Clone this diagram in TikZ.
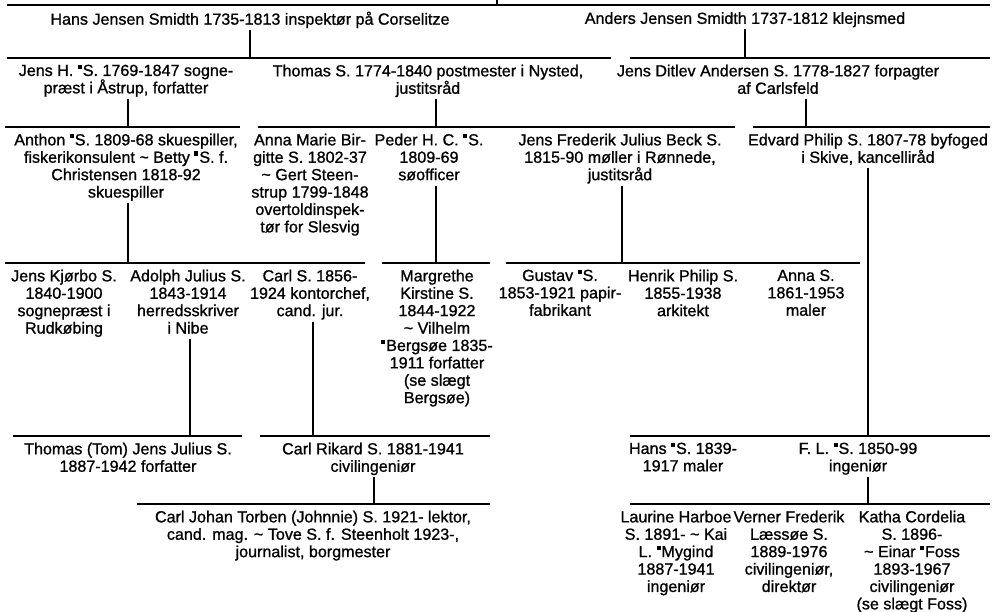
\documentclass[tikz,border=0pt]{standalone}
\usepackage{fontspec}
\setmainfont{Liberation Sans}[FakeBold=1.0]
\newcommand\mk{\rule[0.45em]{0.25em}{0.25em}\kern0.06em}
\newcommand\tld{\textasciitilde}
\begin{document}
\begin{tikzpicture}[x=1pt,y=-1pt,
  person/.style={anchor=north, align=center, inner sep=0pt,
    font=\fontsize{16.1}{17.4}\selectfont,
    execute at begin node=\strut, execute at end node=\strut},
  hl/.style={line width=1.8pt},
  vl/.style={line width=1.1pt}]
\useasboundingbox (0,0) rectangle (999,612);

% ---------- horizontal lines (coordinates) ----------
\coordinate (L1W) at (7,5);     \coordinate (L1E) at (990,5);
\coordinate (L2aW) at (7,58);   \coordinate (L2aE) at (611,58);
\coordinate (L2bW) at (630,58); \coordinate (L2bE) at (990,58);
\coordinate (L3aW) at (5,127);  \coordinate (L3aE) at (240,127);
\coordinate (L3bW) at (258,127);\coordinate (L3bE) at (735,127);
\coordinate (L3cW) at (753,127);\coordinate (L3cE) at (990,127);
\coordinate (L4aW) at (5,263);  \coordinate (L4aE) at (365,263);
\coordinate (L4bW) at (382,263);\coordinate (L4bE) at (490,263);
\coordinate (L4cW) at (506,263);\coordinate (L4cE) at (860,263);
\coordinate (L5aW) at (13,436); \coordinate (L5aE) at (242,436);
\coordinate (L5bW) at (260,436);\coordinate (L5bE) at (490,436);
\coordinate (L5cW) at (630,436);\coordinate (L5cE) at (990,436);
\coordinate (L6aW) at (137,504);\coordinate (L6aE) at (490,504);
\coordinate (L6bW) at (630,504);\coordinate (L6bE) at (990,504);
\coordinate (top) at (497,0);

\foreach \a/\b in {L1W/L1E,L2aW/L2aE,L2bW/L2bE,L3aW/L3aE,L3bW/L3bE,L3cW/L3cE,
  L4aW/L4aE,L4bW/L4bE,L4cW/L4cE,L5aW/L5aE,L5bW/L5bE,L5cW/L5cE,L6aW/L6aE,L6bW/L6bE}
  \draw[hl] (\a) -- (\b);

% ---------- persons ----------
\node[person] (hans)   at (250,11.5) {Hans Jensen Smidth 1735-1813 inspektør på Corselitze};
\node[person] (anders) at (745,11.5) {Anders Jensen Smidth 1737-1812 klejnsmed};

\node[person] (jensh)  at (126,64.5) {Jens H. \mk S. 1769-1847 sogne-\\præst i Åstrup, forfatter};
\node[person] (thomas) at (428,64.5) {Thomas S. 1774-1840 postmester i Nysted,\\justitsråd};
\node[person] (jensd)  at (778,64.5) {Jens Ditlev Andersen S. 1778-1827 forpagter\\af Carlsfeld};

\node[person] (anthon) at (126,133.5) {Anthon \mk S. 1809-68 skuespiller,\\fiskerikonsulent \tld{} Betty \mk S. f.\\Christensen 1818-92\\skuespiller};
\node[person] (annam)  at (310,133.5) {Anna Marie Bir-\\gitte S. 1802-37\\\tld{} Gert Steen-\\strup 1799-1848\\overtoldinspek-\\tør for Slesvig};
\node[person] (peder)  at (429,133.5) {Peder H. C. \mk S.\\1809-69\\søofficer};
\node[person] (jensf)  at (620,133.5) {Jens Frederik Julius Beck S.\\1815-90 møller i Rønnede,\\justitsråd};
\node[person] (edvard) at (868,133.5) {Edvard Philip S. 1807-78 byfoged\\i Skive, kancelliråd};

\node[person] (jensk)  at (64,269.5)  {Jens Kjørbo S.\\1840-1900\\sognepræst i\\Rudkøbing};
\node[person] (adolph) at (188,269.5) {Adolph Julius S.\\1843-1914\\herredsskriver\\i Nibe};
\node[person] (carls)  at (310,269.5) {Carl S. 1856-\\1924 kontorchef,\\cand. jur.};
\node[person] (marg)   at (437,269.5) {Margrethe\\Kirstine S.\\1844-1922\\\tld{} Vilhelm\\\mk Bergsøe 1835-\\1911 forfatter\\(se slægt\\Bergsøe)};
\node[person] (gustav) at (560,269.5) {Gustav \mk S.\\1853-1921 papir-\\fabrikant};
\node[person] (henrik) at (683,269.5) {Henrik Philip S.\\1855-1938\\arkitekt};
\node[person] (anna)   at (806,269.5) {Anna S.\\1861-1953\\maler};

\node[person] (tom)    at (128,442.5) {Thomas (Tom) Jens Julius S.\\1887-1942 forfatter};
\node[person] (carlr)  at (373,442.5) {Carl Rikard S. 1881-1941\\civilingeniør};
\node[person] (hansm)  at (683,442.5) {Hans \mk S. 1839-\\1917 maler};
\node[person] (fl)     at (858,442.5) {F. L. \mk S. 1850-99\\ingeniør};

\node[person] (carlj)  at (313,510.5) {Carl Johan Torben (Johnnie) S. 1921- lektor,\\cand. mag. \tld{} Tove S. f. Steenholt 1923-,\\journalist, borgmester};
\node[person] (laur)   at (676,510.5) {Laurine Harboe\\S. 1891- \tld{} Kai\\L. \mk Mygind\\1887-1941\\ingeniør};
\node[person] (verner) at (789,510.5) {Verner Frederik\\Læssøe S.\\1889-1976\\civilingeniør,\\direktør};
\node[person] (katha)  at (912,510.5) {Katha Cordelia\\S. 1896-\\\tld{} Einar \mk Foss\\1893-1967\\civilingeniør\\(se slægt Foss)};

% ---------- vertical connectors ----------
\draw[vl] (top) -- (top |- L1W);
\foreach \n/\x/\l in {hans/250/L2aW, anders/745/L2bW,
   jensh/128/L3aW, thomas/436/L3bW, jensd/806/L3cW,
   anthon/128/L4aW, peder/436/L4bW, jensf/622/L4cW, edvard/868/L5cW,
   adolph/190/L5aW, carls/313/L5bW,
   carlr/374/L6aW, fl/868/L6bW}
  \draw[vl] (\n.south -| \x,0) -- (\x,0 |- \l);
\end{tikzpicture}
\end{document}
